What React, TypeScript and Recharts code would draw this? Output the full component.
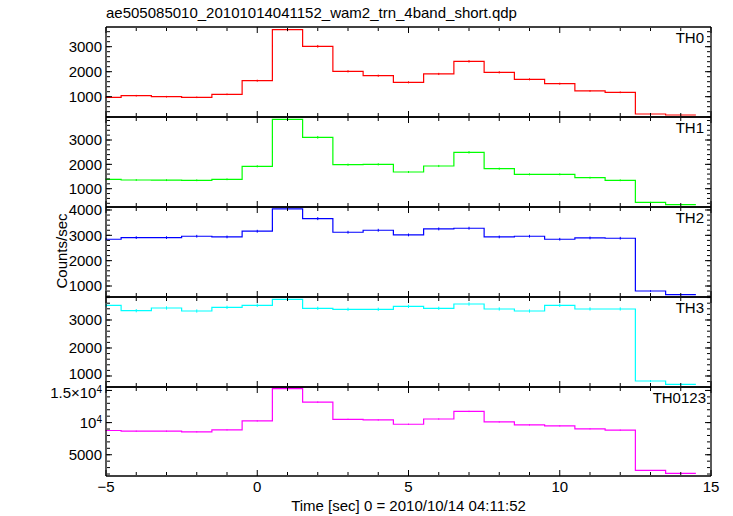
import React from 'react';
import { ComposedChart, Line, XAxis, YAxis, ErrorBar } from 'recharts';

const TITLE = 'ae505085010_20101014041152_wam2_trn_4band_short.qdp';
const X_TITLE = 'Time [sec] 0 = 2010/10/14 04:11:52';
const Y_TITLE = 'Counts/sec';

// bin centres (1 s bins)
const timeBins = [-5, -4, -3, -2, -1, 0, 1, 2, 3, 4, 5, 6, 7, 8, 9, 10, 11, 12, 13, 14];

const th0 = [975, 1040, 1000, 975, 1095, 1640, 3680, 3015, 2015, 1840, 1575, 1910, 2415, 1975, 1695, 1520, 1230, 1175, 308, 268];
const th0Err = [31, 32, 32, 31, 33, 40, 61, 55, 45, 43, 40, 44, 49, 44, 41, 39, 35, 34, 18, 16];

const th1 = [1386, 1357, 1350, 1345, 1386, 1920, 3850, 3110, 1985, 2000, 1686, 1932, 2495, 1822, 1590, 1590, 1452, 1345, 441, 343];
const th1Err = [37, 37, 37, 37, 37, 44, 62, 56, 45, 45, 41, 44, 50, 43, 40, 40, 38, 37, 21, 19];

const th2 = [2846, 2910, 2910, 2964, 2937, 3162, 4043, 3660, 3122, 3200, 3016, 3253, 3280, 2937, 2964, 2846, 2897, 2885, 802, 656];
const th2Err = [53, 54, 54, 54, 54, 56, 64, 60, 56, 57, 55, 57, 57, 54, 54, 53, 54, 54, 28, 26];

const th3 = [3525, 3333, 3429, 3321, 3452, 3525, 3738, 3417, 3381, 3381, 3488, 3417, 3571, 3393, 3321, 3525, 3393, 3393, 821, 703];
const th3Err = [59, 58, 59, 58, 59, 59, 61, 58, 58, 58, 59, 58, 60, 58, 58, 59, 58, 58, 29, 27];

const th0123 = [8770, 8662, 8662, 8565, 8873, 10260, 15280, 13180, 10510, 10410, 9740, 10560, 11740, 10100, 9640, 9490, 9030, 8820, 2570, 2110];
const th0123Err = [94, 93, 93, 93, 94, 101, 124, 115, 103, 102, 99, 103, 108, 100, 98, 97, 95, 94, 51, 46];

const xMajorTicks = [-5, 0, 5, 10, 15];
const xMinorTicks = [-4, -3, -2, -1, 1, 2, 3, 4, 6, 7, 8, 9, 11, 12, 13, 14];
const th0Ticks = [1000, 2000, 3000];
const th1Ticks = [1000, 2000, 3000];
const th2Ticks = [1000, 2000, 3000, 4000];
const th3Ticks = [1000, 2000, 3000];
const th0123Ticks = [5000, 10000, 15000];

const range = (a: number, b: number, s: number) => {
  const out: number[] = [];
  for (let v = a; v <= b + 1e-9; v += s) out.push(v);
  return out;
};

const W = 733;
const PL = 106;
const PR = 711;
const FONT = '"Liberation Sans", Arial, Helvetica, sans-serif';

const tickLine = { stroke: '#000', strokeWidth: 1 };
const axisLine = { stroke: '#000', strokeWidth: 1.3 };
const labelStyle = { fill: '#000', fontSize: 15, fontFamily: FONT };

const fmtX = (v: number) => (v < 0 ? '\u2212' + Math.abs(v) : String(v));

const NoLabel = () => <g />;

function NumTick(props: any) {
  const { x, y, payload, lowShift } = props;
  const v = payload.value as number;
  const dy = lowShift && v === 1000 ? 3 : 5;
  return (
    <text x={x} y={y} dy={dy} textAnchor="end" fontSize={15} fontFamily={FONT} fill="#000">
      {String(v)}
    </text>
  );
}

function PowTick(props: any) {
  const { x, y, payload } = props;
  const v = payload.value as number;
  let content: any = String(v);
  if (v >= 10000) {
    const m = v / 10000;
    content = (
      <>
        <tspan>{m === 1 ? '10' : m + '\u00d710'}</tspan>
        <tspan dy={-5} fontSize={10}>4</tspan>
      </>
    );
  }
  return (
    <text x={x} y={y} dy={v >= 15000 ? 8 : 5} textAnchor="end" fontSize={15} fontFamily={FONT} fill="#000">
      {content}
    </text>
  );
}

type PanelProps = {
  top: number;
  height: number;
  values: number[];
  errs: number[];
  color: string;
  domain: [number, number];
  majors: number[];
  minors: number[];
  showX?: boolean;
  yTick?: any;
};

const XD: [number, number] = [-5, 15];

function Panel({ top, height, values, errs, color, domain, majors, minors, showX, yTick }: PanelProps) {
  const rows = timeBins.map((t, i) => ({ t, v: values[i], e: errs[i] }));
  rows.push({ t: timeBins[timeBins.length - 1] + 0.5, v: values[values.length - 1], e: 0 });
  const padT = 12;
  const labelH = 30;
  const padB = showX ? 0 : 12;
  const chartH = height + padT + (showX ? labelH : padB);
  return (
    <div style={{ position: 'absolute', left: 0, top: top - padT }}>
      <ComposedChart
        width={W}
        height={chartH}
        data={rows}
        margin={{ top: padT, right: W - PR, bottom: padB, left: PL - 60 }}
      >
        {/* frame + inward ticks (mirrored axes) */}
        <XAxis xAxisId="bM" dataKey="t" type="number" domain={XD} allowDataOverflow ticks={xMajorTicks} interval={0}
          orientation="bottom" mirror height={1} tickSize={6} axisLine={axisLine} tickLine={tickLine} tick={NoLabel} />
        <XAxis xAxisId="bm" dataKey="t" type="number" domain={XD} allowDataOverflow ticks={xMinorTicks} interval={0}
          orientation="bottom" mirror height={1} tickSize={3} axisLine={false} tickLine={tickLine} tick={NoLabel} />
        <XAxis xAxisId="tM" dataKey="t" type="number" domain={XD} allowDataOverflow ticks={xMajorTicks} interval={0}
          orientation="top" mirror height={1} tickSize={6} axisLine={axisLine} tickLine={tickLine} tick={NoLabel} />
        <XAxis xAxisId="tm" dataKey="t" type="number" domain={XD} allowDataOverflow ticks={xMinorTicks} interval={0}
          orientation="top" mirror height={1} tickSize={3} axisLine={false} tickLine={tickLine} tick={NoLabel} />
        {showX && (
          <XAxis xAxisId="bl" dataKey="t" type="number" domain={XD} allowDataOverflow ticks={xMajorTicks} interval={0}
            orientation="bottom" height={labelH} tickSize={0} tickMargin={5} axisLine={false} tickLine={false}
            tick={labelStyle} tickFormatter={fmtX} />
        )}
        <YAxis yAxisId="l" type="number" domain={domain} allowDataOverflow ticks={majors} interval={0}
          orientation="left" width={60} tickSize={0} tickMargin={4} axisLine={false} tickLine={false}
          tick={yTick ?? labelStyle} />
        <YAxis yAxisId="lM" type="number" domain={domain} allowDataOverflow ticks={majors} interval={0}
          orientation="left" mirror width={1} tickSize={6} axisLine={axisLine} tickLine={tickLine} tick={NoLabel} />
        <YAxis yAxisId="lm" type="number" domain={domain} allowDataOverflow ticks={minors} interval={0}
          orientation="left" mirror width={1} tickSize={3} axisLine={false} tickLine={tickLine} tick={NoLabel} />
        <YAxis yAxisId="rM" type="number" domain={domain} allowDataOverflow ticks={majors} interval={0}
          orientation="right" mirror width={1} tickSize={6} axisLine={axisLine} tickLine={tickLine} tick={NoLabel} />
        <YAxis yAxisId="rm" type="number" domain={domain} allowDataOverflow ticks={minors} interval={0}
          orientation="right" mirror width={1} tickSize={3} axisLine={false} tickLine={tickLine} tick={NoLabel} />
        <Line xAxisId="bM" yAxisId="l" dataKey="v" type="step" stroke={color} strokeWidth={1.2} dot={false}
          isAnimationActive={false}>
          <ErrorBar dataKey="e" width={0} stroke={color} strokeWidth={1} direction="y" />
        </Line>
      </ComposedChart>
    </div>
  );
}

const panels = [
  { label: 'TH0', values: th0, errs: th0Err, color: '#ff0000', domain: [188, 3788] as [number, number], majors: th0Ticks, minors: range(200, 3600, 200) },
  { label: 'TH1', values: th1, errs: th1Err, color: '#00ff00', domain: [248, 3945] as [number, number], majors: th1Ticks, minors: range(400, 3800, 200) },
  { label: 'TH2', values: th2, errs: th2Err, color: '#0000ff', domain: [566, 4118] as [number, number], majors: th2Ticks, minors: range(600, 4000, 200) },
  { label: 'TH3', values: th3, errs: th3Err, color: '#00ffff', domain: [607, 3821] as [number, number], majors: th3Ticks, minors: range(800, 3800, 200) },
  { label: 'TH0123', values: th0123, errs: th0123Err, color: '#ff00ff', domain: [1692, 15538] as [number, number], majors: th0123Ticks, minors: range(2000, 15000, 1000) },
];

const tops = [27, 117, 207, 297, 387];
const heights = [90, 90, 90, 90, 89];

export default function App() {
  return (
    <div style={{ position: 'absolute', left: 0, top: 0, width: W, height: 516, background: '#fff', overflow: 'hidden' }}>
      {panels.map((p, i) => (
        <Panel key={p.label} top={tops[i]} height={heights[i]} values={p.values} errs={p.errs} color={p.color}
          domain={p.domain} majors={p.majors} minors={p.minors} showX={i === panels.length - 1}
          yTick={i === panels.length - 1 ? <PowTick /> : i === 3 ? <NumTick lowShift /> : undefined} />
      ))}
      <svg width={W} height={516} style={{ position: 'absolute', left: 0, top: 0, pointerEvents: 'none' }}>
        <text x={PL} y={18} fontSize={15} fontFamily={FONT} fill="#000">{TITLE}</text>
        {panels.map((p, i) => (
          <text key={p.label} x={i === panels.length - 1 ? 706 : 704} y={tops[i] + 16} fontSize={15}
            fontFamily={FONT} textAnchor="end" fill="#000">{p.label}</text>
        ))}
        <text x={(PL + PR) / 2} y={511} fontSize={15} fontFamily={FONT} textAnchor="middle" fill="#000">{X_TITLE}</text>
        <text x={0} y={0} transform="translate(67,251) rotate(-90)" fontSize={15} fontFamily={FONT}
          textAnchor="middle" fill="#000">{Y_TITLE}</text>
      </svg>
    </div>
  );
}
